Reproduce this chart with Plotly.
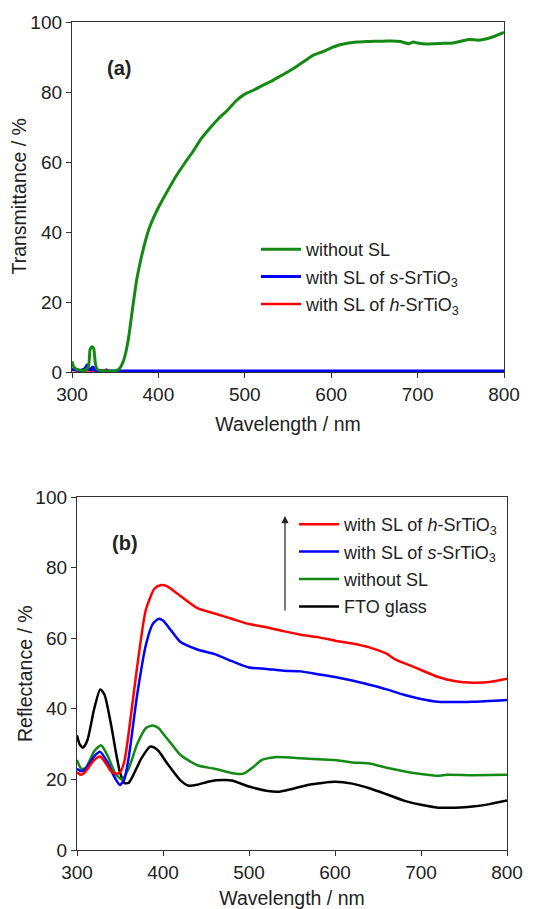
import plotly.graph_objects as go

# ---------------- Panel (a): transmittance ----------------
wl_a_green = [300, 302, 305, 310, 315, 319, 321, 323, 325, 327, 329, 333, 340, 350, 355, 360, 365, 370, 375, 380,
              385, 390, 400, 410, 420, 430, 440, 450, 460, 470, 480, 490, 500, 510, 520, 530, 540, 550, 560,
              570, 580, 590, 600, 610, 620, 630, 640, 650, 660, 670, 680, 690, 695, 700, 710, 720, 730, 740,
              750, 760, 770, 780, 790, 800]
t_without = [3.0, 1.5, 0.8, 0.5, 0.5, 1.5, 6.5, 7.2, 6.8, 2.5, 0.8, 0.4, 0.3, 0.3, 1.0, 3.5, 9.0, 18.0, 26.5, 32.5,
             37.5, 41.5, 47.0, 51.5, 55.8, 59.5, 63.0, 66.8, 69.8, 72.5, 74.8, 77.5, 79.4, 80.5, 81.8, 83.0, 84.4,
             85.8, 87.3, 89.0, 90.6, 91.5, 92.6, 93.5, 94.0, 94.3, 94.4, 94.5, 94.5, 94.6, 94.4, 93.8, 94.3,
             94.0, 93.7, 93.8, 93.9, 94.0, 94.5, 95.0, 94.8, 95.2, 96.0, 97.0]

wl_a_blue = [300, 305, 310, 315, 318, 320, 322, 324, 326, 330, 335, 345, 400, 500, 600, 700, 800]
t_s = [0.8, 0.6, 0.4, 1.0, 2.2, 0.8, 0.6, 1.6, 0.6, 0.3, 0.3, 0.3, 0.3, 0.3, 0.3, 0.3, 0.3]

wl_a_red = [300, 305, 310, 320, 330, 338, 340, 342, 350, 400, 500, 600, 700, 800]
t_h = [0.6, 0.4, 0.3, 0.5, 0.3, 0.4, 0.7, 0.3, 0.2, 0.2, 0.2, 0.2, 0.2, 0.2]

# ---------------- Panel (b): reflectance ----------------
wl_b_red = [300, 305, 310, 320, 327, 335, 340, 345, 350, 355, 360, 370, 380, 390, 397, 405, 420, 440, 460,
            480, 500, 520, 540, 560, 580, 600, 620, 640, 660, 670, 690, 700, 720, 740, 760, 780, 800]
r_h = [22.0, 21.3, 22.3, 25.5, 26.5, 24.0, 22.2, 21.6, 22.0, 25.0, 33.0, 52.0, 68.0, 74.0, 75.0, 74.7, 72.0,
       68.5, 67.0, 65.5, 64.0, 63.1, 62.0, 61.0, 60.3, 59.3, 58.5, 57.4, 55.6, 54.0, 52.0, 51.0, 49.0, 47.8,
       47.4, 47.6, 48.5]

wl_b_blue = [300, 305, 310, 320, 327, 335, 345, 350, 355, 360, 370, 380, 388, 395, 400, 410, 420, 440, 460,
             480, 500, 520, 540, 560, 580, 600, 620, 640, 660, 680, 700, 720, 760, 800]
r_s = [23.0, 22.3, 23.0, 26.5, 27.8, 25.0, 20.0, 18.4, 20.0, 26.0, 44.0, 58.0, 64.0, 65.5, 65.0, 62.0, 59.0,
       56.8, 55.5, 53.5, 51.7, 51.3, 50.8, 50.6, 49.8, 49.0, 48.0, 46.8, 45.5, 44.0, 42.8, 42.0, 42.0, 42.5]

wl_b_green = [300, 305, 310, 320, 328, 335, 345, 352, 360, 370, 380, 388, 395, 400, 410, 420, 440, 460, 480,
              490, 495, 505, 515, 530, 560, 580, 600, 620, 640, 660, 680, 700, 720, 730, 760, 800]
r_without = [25.5, 23.0, 23.2, 28.0, 29.7, 27.0, 21.5, 20.0, 23.0, 30.0, 34.5, 35.3, 34.5, 33.0, 30.0, 27.0,
             24.0, 23.0, 21.8, 21.5, 21.8, 23.5, 25.5, 26.3, 26.0, 25.7, 25.5, 24.8, 24.5, 23.3, 22.3, 21.5,
             21.0, 21.3, 21.2, 21.3]

wl_b_black = [300, 303, 307, 312, 320, 327, 332, 340, 345, 350, 355, 360, 365, 375, 385, 390, 395, 405, 420,
              430, 440, 455, 470, 480, 500, 520, 535, 550, 570, 600, 620, 640, 660, 680, 700, 720, 740, 760,
              780, 800]
r_fto = [32.5, 30.0, 29.0, 31.0, 40.0, 45.5, 44.0, 35.0, 28.0, 22.0, 19.0, 19.0, 21.0, 26.0, 29.3, 29.0, 28.0,
         24.5, 19.8, 18.2, 18.5, 19.5, 19.8, 19.7, 18.0, 16.8, 16.5, 17.3, 18.5, 19.3, 18.8, 17.5, 15.8, 14.0,
         12.8, 12.0, 12.0, 12.3, 13.0, 14.0]

x_ticks = [300, 400, 500, 600, 700, 800]
y_ticks = [0, 20, 40, 60, 80, 100]

GREEN = "#138a13"
BLUE = "#0000ff"
RED = "#ff0000"
BLACK = "#000000"
FONT = "Liberation Sans, Arial, sans-serif"
SP = dict(shape="spline", smoothing=0.6)

fig = go.Figure()

# panel (a) traces (drawn red, blue, green)
fig.add_trace(go.Scatter(x=wl_a_red, y=t_h, mode="lines", line=dict(color=RED, width=2.5),
                         name="with SL of <i>h</i>-SrTiO<sub>3</sub>", legend="legend", legendrank=3,
                         legendgroup="a3", xaxis="x", yaxis="y"))
fig.add_trace(go.Scatter(x=wl_a_blue, y=t_s, mode="lines", line=dict(color=BLUE, width=3),
                         name="with SL of <i>s</i>-SrTiO<sub>3</sub>", legend="legend", legendrank=2,
                         legendgroup="a2", xaxis="x", yaxis="y"))
fig.add_trace(go.Scatter(x=wl_a_green, y=t_without, mode="lines", line=dict(color=GREEN, width=3, **SP),
                         name="without SL", legend="legend", legendrank=1,
                         legendgroup="a1", xaxis="x", yaxis="y"))

# panel (b) traces
fig.add_trace(go.Scatter(x=wl_b_black, y=r_fto, mode="lines", line=dict(color=BLACK, width=2.5, **SP),
                         name="FTO glass", legend="legend2", legendrank=4, legendgroup="b4",
                         xaxis="x2", yaxis="y2"))
fig.add_trace(go.Scatter(x=wl_b_green, y=r_without, mode="lines", line=dict(color=GREEN, width=2.5, **SP),
                         name="without SL", legend="legend2", legendrank=3, legendgroup="b3",
                         xaxis="x2", yaxis="y2"))
fig.add_trace(go.Scatter(x=wl_b_blue, y=r_s, mode="lines", line=dict(color=BLUE, width=2.5, **SP),
                         name="with SL of <i>s</i>-SrTiO<sub>3</sub>", legend="legend2", legendrank=2,
                         legendgroup="b2", xaxis="x2", yaxis="y2"))
fig.add_trace(go.Scatter(x=wl_b_red, y=r_h, mode="lines", line=dict(color=RED, width=2.5, **SP),
                         name="with SL of <i>h</i>-SrTiO<sub>3</sub>", legend="legend2", legendrank=1,
                         legendgroup="b1", xaxis="x2", yaxis="y2"))

W, H = 536, 909


def ax_common():
    return dict(showgrid=False, zeroline=False, showline=True, linecolor="#333", linewidth=1.3,
                mirror=True, ticks="outside", ticklen=5, tickwidth=1.2, tickcolor="#333",
                automargin=False,
                tickfont=dict(family=FONT, size=19, color="#222"),
                minor=dict(ticks="outside", ticklen=3, tickwidth=1.2, tickcolor="#333", nticks=2))


xa = ax_common()
xa.update(range=[300, 800], tickvals=x_ticks, title=dict(text="Wavelength / nm", standoff=13,
          font=dict(family=FONT, size=19.5, color="#222")))
ya = ax_common()
ya.update(range=[0, 100], tickvals=y_ticks)
YTF = dict(family=FONT, size=19.5, color="#222")

fig.update_layout(
    width=W, height=H, margin=dict(l=0, r=0, t=0, b=0),
    paper_bgcolor="white", plot_bgcolor="white",
    xaxis=dict(xa, domain=[72 / W, 504 / W], anchor="y"),
    yaxis=dict(ya, domain=[1 - 372 / H, 1 - 22 / H], anchor="x"),
    xaxis2=dict(xa, domain=[77 / W, 507 / W], anchor="y2"),
    yaxis2=dict(ya, domain=[1 - 850 / H, 1 - 497 / H], anchor="x2"),
    legend=dict(x=256 / W, y=1 - 231 / H, xanchor="left", yanchor="top", bgcolor="rgba(0,0,0,0)",
                font=dict(family=FONT, size=18, color="#222"), tracegroupgap=1, itemwidth=40),
    legend2=dict(x=294 / W, y=1 - 506 / H, xanchor="left", yanchor="top", bgcolor="rgba(0,0,0,0)",
                 font=dict(family=FONT, size=18, color="#222"), tracegroupgap=1, itemwidth=40),
    annotations=[
        dict(text="Transmittance / %", xref="paper", yref="y domain", x=18.5 / W, y=0.5, textangle=-90,
             showarrow=False, xanchor="center", yanchor="middle", font=YTF),
        dict(text="Reflectance / %", xref="paper", yref="y2 domain", x=24.5 / W, y=0.5, textangle=-90,
             showarrow=False, xanchor="center", yanchor="middle", font=YTF),
        dict(text="<b>(a)</b>", xref="x domain", yref="y domain", x=0.076, y=0.906, showarrow=False,
             font=dict(family=FONT, size=20, color="#222")),
        dict(text="<b>(b)</b>", xref="x2 domain", yref="y2 domain", x=0.077, y=0.906, showarrow=False,
             font=dict(family=FONT, size=20, color="#222")),
        dict(text="", xref="paper", yref="paper", x=285 / W, y=1 - 516 / H, ax=0, ay=96,
             axref="pixel", ayref="pixel", showarrow=True, arrowhead=2, arrowsize=1.2, arrowwidth=1.2,
             arrowcolor="#222"),
    ],
)

fig.write_html("out.html")
